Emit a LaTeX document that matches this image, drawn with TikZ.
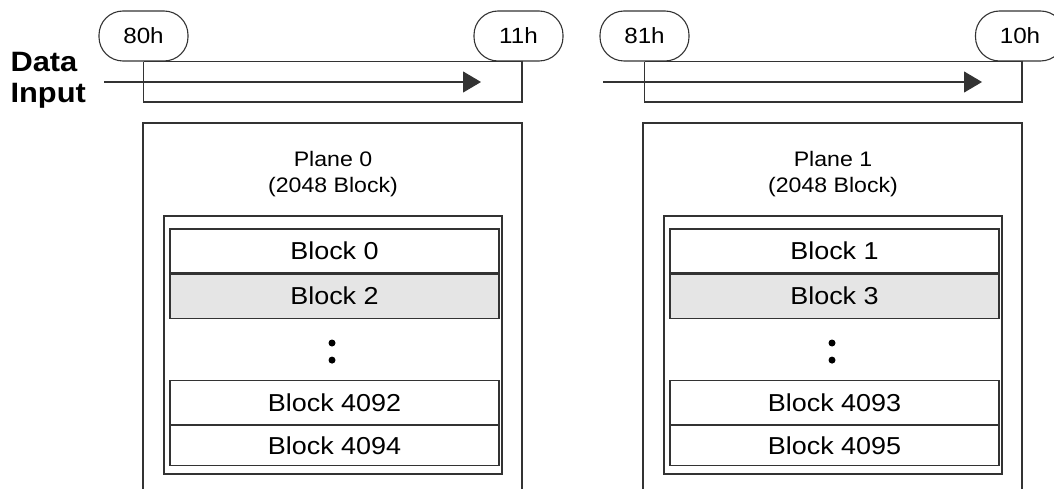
\documentclass[tikz,border=0pt]{standalone}
\usepackage{fontspec}
\setmainfont[FakeStretch=1.1]{Liberation Sans}
\usepackage{tikz}
\usetikzlibrary{arrows.meta, positioning, shapes.misc}

\tikzset{
    cmd/.style={draw, fill=white, rounded corners=24pt, minimum width=89pt,
        minimum height=50pt, inner sep=0pt, font=\fontsize{22}{26}\selectfont},
    blk/.style={draw, minimum width=329pt, minimum height=44pt, inner sep=0pt,
        font=\fontsize{24.5}{28}\selectfont},
    plane/.style={draw, minimum width=338pt, minimum height=258pt},
    title/.style={align=center, inner sep=0pt, font=\fontsize{21}{26}\selectfont},
    dot/.style={circle, fill=black, inner sep=0pt, minimum size=7pt}
}

\begin{document}
\begin{tikzpicture}[x=1pt, y=-1pt, line width=1.1pt, draw=black!80]
    \useasboundingbox (0,0) rectangle (1054,489);

    % data input
    \node[align=left, anchor=north west, inner sep=0pt,
        font=\bfseries\fontsize{28}{31}\selectfont] (din) at (10,52) {Data\\Input};

    % command sequence, plane 0
    \node[cmd] (c80) at (143.5,36) {80h};
    \node[cmd] (c11) at (518.5,36) {11h};
    \coordinate (e11) at (522,102);
    \draw (c80.south) -- (c11.south);
    \draw (c80.south) |- (e11) |- (c11.south);
    \coordinate (a0) at (104,82);
    \coordinate (a1) at (481,82);
    \draw[-{Triangle[length=18pt, width=21pt]}] (a0) -- (a1);

    % command sequence, plane 1
    \node[cmd] (c81) at (644.5,36) {81h};
    \node[cmd] (c10) at (1020,36) {10h};
    \coordinate (e10) at (1022,102);
    \draw (c81.south) -- (c10.south);
    \draw (c81.south) |- (e10) |- (c10.south);
    \coordinate (a2) at (603,82);
    \coordinate (a3) at (982,82);
    \draw[-{Triangle[length=18pt, width=21pt]}] (a2) -- (a3);

    % plane 0
    \draw (143,495) |- (522,123) -- (522,495);
    \node[title, anchor=north] (t0) at (333,151) {Plane 0\\(2048 Block)};
    \node[plane] (p0) at (333,345) {};
    \node[blk] (b0) at (334.5,251) {Block 0};
    \node[blk, fill=black!10, below=0pt of b0] (b2) {Block 2};
    \node[dot] (d0) at (332,343) {};
    \node[dot, below=9pt of d0] (d1) {};
    \node[blk] (b4092) at (334.5,402.5) {Block 4092};
    \node[blk, minimum height=40pt, below=0pt of b4092] (b4094) {Block 4094};

    % plane 1
    \draw (643,495) |- (1022,123) -- (1022,495);
    \node[title, anchor=north] (t1) at (833,151) {Plane 1\\(2048 Block)};
    \node[plane] (p1) at (833,345) {};
    \node[blk] (b1) at (834.5,251) {Block 1};
    \node[blk, fill=black!10, below=0pt of b1] (b3) {Block 3};
    \node[dot] (d2) at (832,343) {};
    \node[dot, below=9pt of d2] (d3) {};
    \node[blk] (b4093) at (834.5,402.5) {Block 4093};
    \node[blk, minimum height=40pt, below=0pt of b4093] (b4095) {Block 4095};
\end{tikzpicture}
\end{document}
